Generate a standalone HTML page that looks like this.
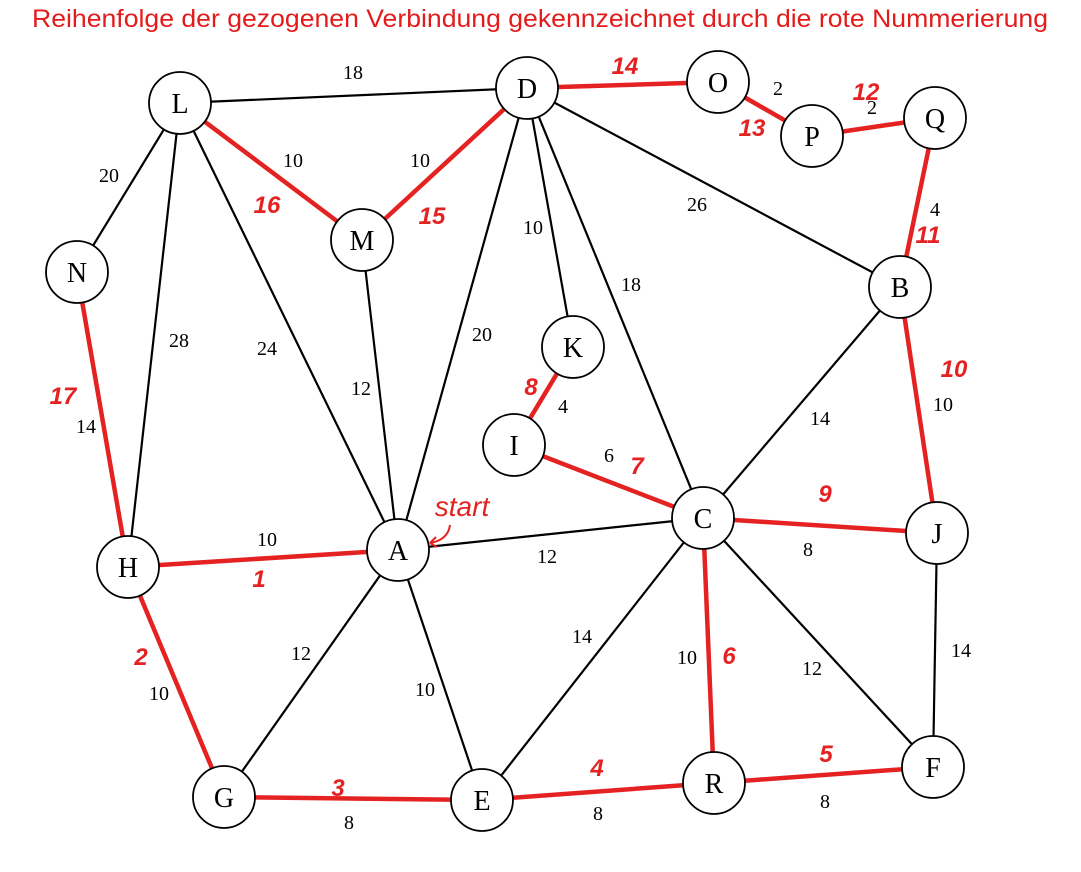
<!DOCTYPE html>
<html><head><style>body{margin:0;background:#fff}</style></head><body>
<svg width="1081" height="867" xmlns="http://www.w3.org/2000/svg" font-family="Liberation Serif, serif">
<text x="32" y="27" font-family="Liberation Sans, sans-serif" font-size="25" fill="#e31b1b" textLength="1016" lengthAdjust="spacingAndGlyphs">Reihenfolge der gezogenen Verbindung gekennzeichnet durch die rote Nummerierung</text>
<g stroke="#000" stroke-width="2.2">
<line x1="180" y1="103" x2="527" y2="88"/>
<line x1="180" y1="103" x2="77" y2="272"/>
<line x1="180" y1="103" x2="128" y2="567"/>
<line x1="180" y1="103" x2="398" y2="550"/>
<line x1="362" y1="240" x2="398" y2="550"/>
<line x1="527" y1="88" x2="398" y2="550"/>
<line x1="527" y1="88" x2="573" y2="347"/>
<line x1="527" y1="88" x2="703" y2="518"/>
<line x1="527" y1="88" x2="900" y2="287"/>
<line x1="900" y1="287" x2="703" y2="518"/>
<line x1="398" y1="550" x2="703" y2="518"/>
<line x1="398" y1="550" x2="224" y2="797"/>
<line x1="398" y1="550" x2="482" y2="800"/>
<line x1="703" y1="518" x2="482" y2="800"/>
<line x1="703" y1="518" x2="933" y2="767"/>
<line x1="937" y1="533" x2="933" y2="767"/>
</g>
<g stroke="#e52222" stroke-width="4.5">
<line x1="180" y1="103" x2="362" y2="240"/>
<line x1="527" y1="88" x2="362" y2="240"/>
<line x1="527" y1="88" x2="718" y2="82"/>
<line x1="718" y1="82" x2="812" y2="136"/>
<line x1="812" y1="136" x2="935" y2="118"/>
<line x1="935" y1="118" x2="900" y2="287"/>
<line x1="900" y1="287" x2="937" y2="533"/>
<line x1="703" y1="518" x2="937" y2="533"/>
<line x1="703" y1="518" x2="714" y2="783"/>
<line x1="714" y1="783" x2="933" y2="767"/>
<line x1="482" y1="800" x2="714" y2="783"/>
<line x1="224" y1="797" x2="482" y2="800"/>
<line x1="128" y1="567" x2="224" y2="797"/>
<line x1="128" y1="567" x2="398" y2="550"/>
<line x1="77" y1="272" x2="128" y2="567"/>
<line x1="573" y1="347" x2="514" y2="445"/>
<line x1="514" y1="445" x2="703" y2="518"/>
</g>
<g fill="#fff" stroke="#000" stroke-width="1.8">
<circle cx="180" cy="103" r="31"/><circle cx="527" cy="88" r="31"/><circle cx="718" cy="82" r="31"/>
<circle cx="812" cy="136" r="31"/><circle cx="935" cy="118" r="31"/><circle cx="77" cy="272" r="31"/>
<circle cx="362" cy="240" r="31"/><circle cx="573" cy="347" r="31"/><circle cx="900" cy="287" r="31"/>
<circle cx="514" cy="445" r="31"/><circle cx="703" cy="518" r="31"/><circle cx="937" cy="533" r="31"/>
<circle cx="128" cy="567" r="31"/><circle cx="398" cy="550" r="31"/><circle cx="224" cy="797" r="31"/>
<circle cx="482" cy="800" r="31"/><circle cx="714" cy="783" r="31"/><circle cx="933" cy="767" r="31"/>
</g>
<g font-size="28" text-anchor="middle" fill="#000">
<text x="180" y="113">L</text><text x="527" y="98">D</text><text x="718" y="92">O</text>
<text x="812" y="146">P</text><text x="935" y="128">Q</text><text x="77" y="282">N</text>
<text x="362" y="250">M</text><text x="573" y="357">K</text><text x="900" y="297">B</text>
<text x="514" y="455">I</text><text x="703" y="528">C</text><text x="937" y="543">J</text>
<text x="128" y="577">H</text><text x="398" y="560">A</text><text x="224" y="807">G</text>
<text x="482" y="810">E</text><text x="714" y="793">R</text><text x="933" y="777">F</text>
</g>
<g font-size="20" text-anchor="middle" fill="#000">
<text x="353" y="79">18</text><text x="109" y="182">20</text><text x="293" y="167">10</text>
<text x="420" y="167">10</text><text x="533" y="234">10</text><text x="631" y="291">18</text>
<text x="697" y="211">26</text><text x="179" y="347">28</text><text x="267" y="355">24</text>
<text x="482" y="341">20</text><text x="361" y="395">12</text><text x="563" y="413">4</text>
<text x="609" y="462">6</text><text x="86" y="433">14</text><text x="820" y="425">14</text>
<text x="943" y="411">10</text><text x="935" y="216">4</text><text x="778" y="95">2</text>
<text x="872" y="114">2</text><text x="267" y="546">10</text><text x="547" y="563">12</text>
<text x="808" y="556">8</text><text x="301" y="660">12</text><text x="582" y="643">14</text>
<text x="687" y="664">10</text><text x="812" y="675">12</text><text x="961" y="657">14</text>
<text x="159" y="700">10</text><text x="425" y="696">10</text><text x="349" y="829">8</text>
<text x="598" y="820">8</text><text x="825" y="808">8</text>
</g>
<g font-family="Liberation Sans, sans-serif" font-weight="bold" font-style="italic" font-size="24" fill="#e52222" text-anchor="middle">
<text x="625" y="74">14</text><text x="866" y="100">12</text><text x="752" y="136">13</text>
<text x="928" y="243">11</text><text x="954" y="377">10</text><text x="267" y="213">16</text>
<text x="432" y="224">15</text><text x="63" y="404">17</text><text x="531" y="395">8</text>
<text x="637" y="474">7</text><text x="825" y="502">9</text><text x="259" y="587">1</text>
<text x="141" y="665">2</text><text x="338" y="796">3</text><text x="597" y="776">4</text>
<text x="826" y="762">5</text><text x="729" y="664">6</text>
<text x="462" y="516" font-size="28" font-weight="normal">start</text>
</g>
<path d="M450 525 Q448 540 430 543 M430 543 l6 -6 M430 543 l7 4" stroke="#e52222" stroke-width="2" fill="none"/>
</svg>
</body></html>
